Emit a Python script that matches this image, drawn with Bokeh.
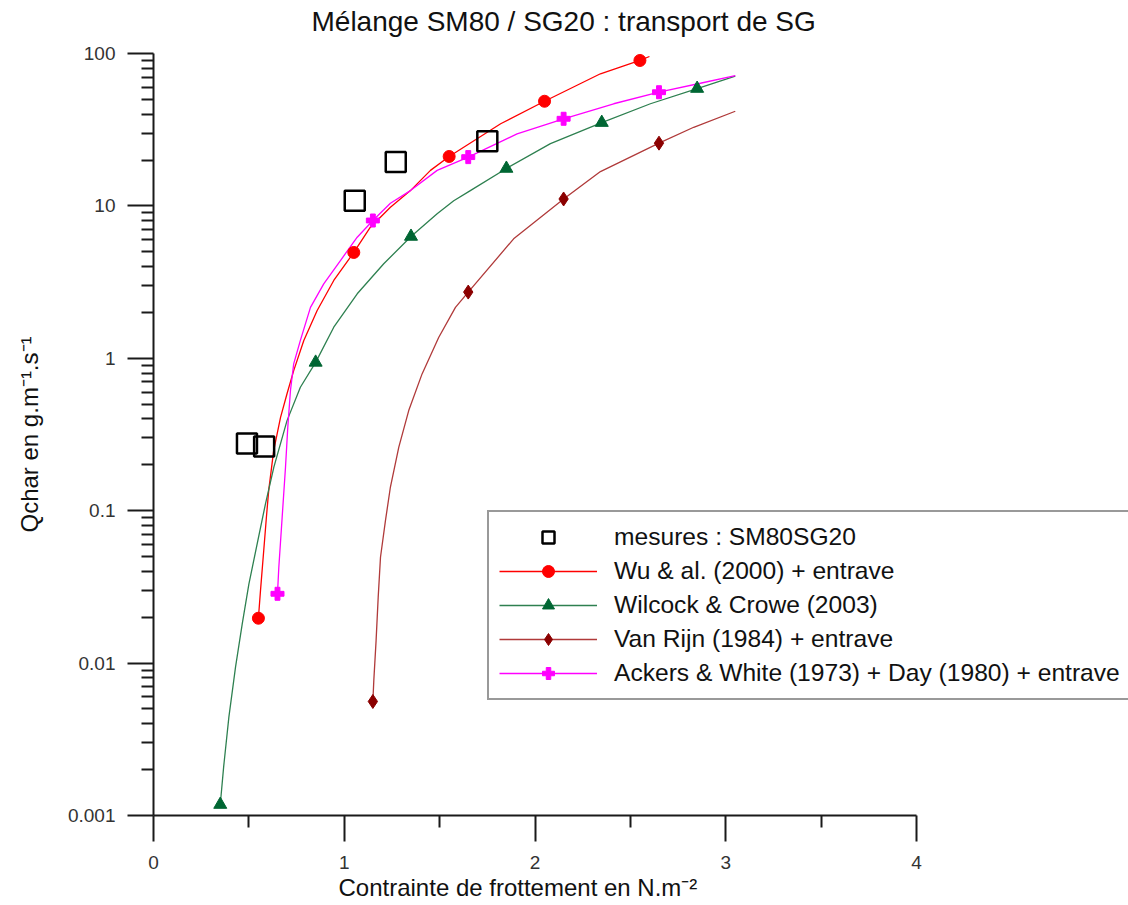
from bokeh.plotting import figure
from bokeh.models import FixedTicker, Legend, LegendItem, CustomJSTickFormatter, Title
from bokeh.embed import file_html
from bokeh.resources import INLINE

# ---------------- data ----------------
title_text = "Mélange SM80 / SG20 : transport de SG"
x_label = "Contrainte de frottement en N.m\u207b\u00b2"
y_label = "Qchar en g.m\u207b\u00b9.s\u207b\u00b9"

x_ticks = [0, 1, 2, 3, 4]
x_minor = [0.5, 1.5, 2.5, 3.5]
y_ticks = [0.001, 0.01, 0.1, 1, 10, 100]

# measurements
mes_x = [0.49, 0.58, 1.055, 1.27, 1.75]
mes_y = [0.276, 0.264, 10.8, 19.4, 26.6]

# Wu & al. (2000) + entrave
wu_mx = [0.55, 1.05, 1.55, 2.05, 2.55]
wu_my = [0.0197, 4.95, 21.1, 48.6, 90.0]
wu_cx = [0.55, 0.561, 0.578, 0.592, 0.604, 0.63, 0.666, 0.70, 0.735, 0.788, 0.858,
         0.945, 1.05, 1.137, 1.242, 1.347, 1.452, 1.55, 1.82, 2.05, 2.343, 2.55, 2.6]
wu_cy = [0.0197, 0.030, 0.055, 0.091, 0.136, 0.248, 0.41, 0.585, 0.83, 1.31, 2.06,
         3.24, 4.95, 7.25, 9.8, 12.6, 17.1, 21.1, 34.6, 48.6, 73.6, 90.0, 95.6]

# Wilcock & Crowe (2003)
wc_mx = [0.35, 0.85, 1.35, 1.85, 2.35, 2.85]
wc_my = [0.00118, 0.94, 6.3, 17.6, 35.2, 58.9]
wc_cx = [0.35, 0.368, 0.395, 0.43, 0.465, 0.50, 0.544, 0.587, 0.631, 0.70, 0.77, 0.85,
         0.945, 1.068, 1.207, 1.35, 1.487, 1.574, 1.661, 1.85, 2.081, 2.35, 2.605, 2.85, 3.05]
wc_cy = [0.00118, 0.0021, 0.0044, 0.0094, 0.018, 0.033, 0.061, 0.111, 0.193, 0.39, 0.646, 0.94,
         1.6, 2.65, 4.17, 6.3, 8.87, 10.8, 12.6, 17.6, 25.6, 35.2, 46.8, 58.9, 71.0]

# Van Rijn (1984) + entrave
vr_mx = [1.15, 1.65, 2.15, 2.65]
vr_my = [0.0056, 2.72, 11.1, 25.8]
vr_cx = [1.15, 1.155, 1.167, 1.178, 1.19, 1.216, 1.242, 1.286, 1.338, 1.408, 1.495, 1.583,
         1.65, 1.888, 2.15, 2.343, 2.65, 2.832, 3.05]
vr_cy = [0.0056, 0.0077, 0.0141, 0.0271, 0.0495, 0.086, 0.143, 0.261, 0.454, 0.79, 1.37, 2.16,
         2.72, 6.08, 11.1, 16.8, 25.8, 32.8, 41.8]

# Ackers & White (1973) + Day (1980) + entrave
aw_mx = [0.65, 1.15, 1.65, 2.15, 2.65]
aw_my = [0.0285, 8.02, 20.9, 37.3, 55.7]
aw_cx = [0.65, 0.657, 0.6745, 0.692, 0.704, 0.718, 0.735, 0.77, 0.823, 0.8925, 0.98, 1.068,
         1.15, 1.242, 1.347, 1.487, 1.65, 1.906, 2.15, 2.4125, 2.65, 2.867, 3.05]
aw_cy = [0.0285, 0.0426, 0.0906, 0.193, 0.353, 0.615, 0.92, 1.31, 2.16, 3.08, 4.38, 6.23,
         8.02, 10.4, 12.6, 17.1, 20.9, 29.7, 37.3, 46.8, 55.7, 63.8, 71.7]

labels = ["mesures : SM80SG20",
          "Wu & al. (2000) + entrave",
          "Wilcock & Crowe (2003)",
          "Van Rijn (1984) + entrave",
          "Ackers & White (1973) + Day (1980) + entrave"]

# ---------------- figure ----------------
FONT = "Liberation Sans"
W, H = 1128, 905
FL, FR, FT, FB = 153, 916, 53, 815        # frame box of the axes (pixels)
x_end = 4 * (W - FL) / (FR - FL)          # frame runs to the right edge so the legend fits

p = figure(width=W, height=H, x_range=(0, x_end), y_range=(0.001, 100),
           y_axis_type="log", output_backend="svg", toolbar_location=None,
           title=None,
           min_border_left=FL, min_border_right=0, min_border_top=FT,
           min_border_bottom=H - FB)
p.outline_line_color = None
p.grid.grid_line_color = None
p.background_fill_color = "white"
p.border_fill_color = "white"

# small blank spacer between frame and title, then the title itself
spacer = Title(text=" ", text_font=FONT, text_font_size="10px", standoff=4)
p.add_layout(spacer, "above")
main_title = Title(text=title_text, align="left", offset=158, standoff=0,
                   text_font=FONT, text_font_size="28px", text_font_style="normal",
                   text_color="#111111")
p.add_layout(main_title, "above")

p.xaxis.ticker = FixedTicker(ticks=x_ticks, minor_ticks=x_minor)
p.xaxis.bounds = (0, 4)
y_minor = [m * t for t in y_ticks[:-1] for m in range(2, 10)]
p.yaxis.ticker = FixedTicker(ticks=y_ticks, minor_ticks=y_minor)
p.yaxis.formatter = CustomJSTickFormatter(code="return tick.toString()")
p.xaxis.formatter = CustomJSTickFormatter(code="return tick.toString()")

for ax in (p.xaxis[0], p.yaxis[0]):
    ax.axis_line_width = 2
    ax.axis_line_color = "#1a1a1a"
    ax.major_tick_line_width = 2
    ax.major_tick_line_color = "#1a1a1a"
    ax.minor_tick_line_width = 2
    ax.minor_tick_line_color = "#1a1a1a"
    ax.major_tick_in = 0
    ax.major_tick_out = 26
    ax.minor_tick_in = 0
    ax.minor_tick_out = 12
    ax.major_label_text_font = FONT
    ax.major_label_text_font_size = "19px"
    ax.major_label_text_color = "#333333"
    ax.axis_label_text_font = FONT
    ax.axis_label_text_font_size = "24px"
    ax.axis_label_text_font_style = "normal"
    ax.axis_label_text_color = "#111111"

p.yaxis.axis_label = y_label
p.xaxis.major_label_standoff = 14
p.yaxis.major_label_standoff = 12
p.yaxis.axis_label_standoff = 22

# x-axis label placed under the axis, centred on the 0..4 axis span
xt = Title(text=x_label, align="left", offset=185, standoff=0,
           text_font=FONT, text_font_size="24px", text_font_style="normal",
           text_color="#111111")
p.add_layout(xt, "below")

# ---------------- series ----------------
c_wu, c_wc, c_vr, c_aw = "#ff0000", "#006633", "#8b0000", "#ff00ff"
c_wc_line, c_vr_line = "#2e8050", "#b03a3a"

l_wu = p.line(wu_cx, wu_cy, line_color=c_wu, line_width=1.3)
l_wc = p.line(wc_cx, wc_cy, line_color=c_wc_line, line_width=1.3)
l_vr = p.line(vr_cx, vr_cy, line_color=c_vr_line, line_width=1.3)
l_aw = p.line(aw_cx, aw_cy, line_color=c_aw, line_width=1.3)

m_wu = p.scatter(wu_mx, wu_my, marker="circle", size=12, fill_color=c_wu, line_color=c_wu)
m_wc = p.scatter(wc_mx, wc_my, marker="triangle", size=13, fill_color=c_wc, line_color=c_wc)
m_vr = p.scatter(vr_mx, vr_my, marker="diamond", size=14, fill_color=c_vr, line_color=c_vr)
m_aw = p.scatter(aw_mx, aw_my, marker="plus", size=13, fill_color=c_aw, line_color=c_aw)
m_mes = p.scatter(mes_x, mes_y, marker="square", size=20, fill_alpha=0,
                  line_color="black", line_width=2.5)

legend = Legend(items=[
    LegendItem(label=labels[0], renderers=[m_mes]),
    LegendItem(label=labels[1], renderers=[l_wu, m_wu]),
    LegendItem(label=labels[2], renderers=[l_wc, m_wc]),
    LegendItem(label=labels[3], renderers=[l_vr, m_vr]),
    LegendItem(label=labels[4], renderers=[l_aw, m_aw]),
], location=(487 - FL, FB - 700))
legend.margin = 0
legend.padding = 10
legend.spacing = 4
legend.glyph_width = 98
legend.glyph_height = 30
legend.label_height = 30
legend.label_standoff = 17
legend.label_text_font = FONT
legend.label_text_font_size = "24.6px"
legend.label_text_color = "#111111"
legend.border_line_color = "#333333"
legend.border_line_width = 2
legend.background_fill_color = "white"
legend.background_fill_alpha = 1.0
p.add_layout(legend)

open("out.html", "w").write(file_html(p, INLINE))
